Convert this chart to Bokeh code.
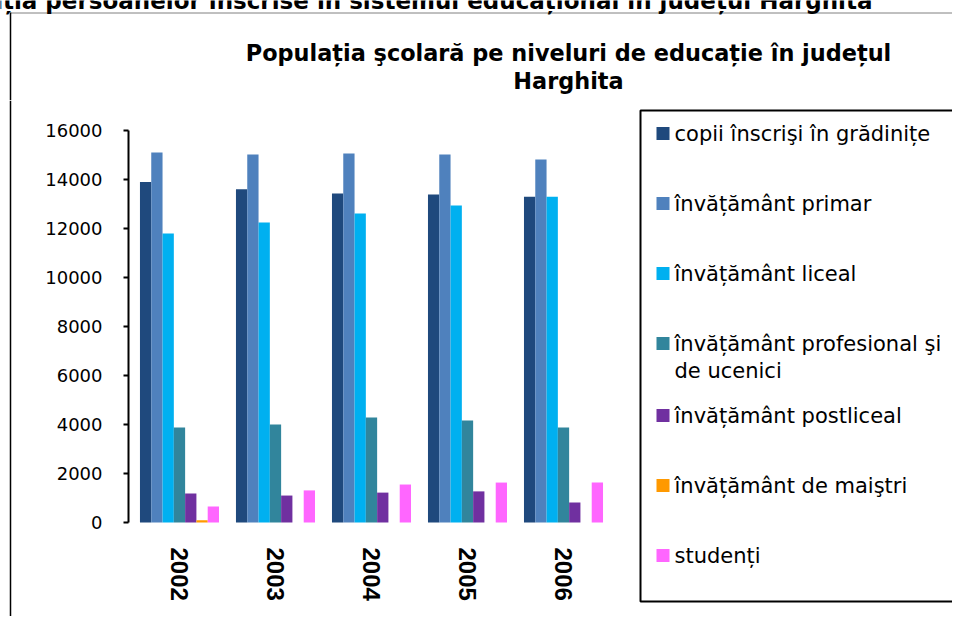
import math
import numpy as np
from bokeh.plotting import figure
from bokeh.layouts import column, row
from bokeh.models import Range1d, FixedTicker, Label
from bokeh.core.properties import value
from bokeh.embed import file_html
from bokeh.resources import INLINE

# ---------------- data ----------------
years = ["2002", "2003", "2004", "2005", "2006"]
gradinite = [13900, 13600, 13430, 13390, 13300]
primar = [15100, 15020, 15060, 15020, 14820]
liceal = [11800, 12250, 12610, 12940, 13300]
profesional = [3880, 4000, 4290, 4160, 3880]
postliceal = [1180, 1100, 1220, 1270, 820]
maistri = [90, 0, 0, 0, 0]
studenti = [650, 1310, 1550, 1630, 1630]

series_labels = [
    ["copii înscrişi în grădinițe"],
    ["învățământ primar"],
    ["învățământ liceal"],
    ["învățământ profesional şi", "de ucenici"],
    ["învățământ postliceal"],
    ["învățământ de maiştri"],
    ["studenți"],
]
y_ticks = [0, 2000, 4000, 6000, 8000, 10000, 12000, 14000, 16000]
chart_title = ["Populația şcolară pe niveluri de educație în județul", "Harghita"]
page_heading = "Populația persoanelor înscrise în sistemul educațional în județul Harghita"

series = [gradinite, primar, liceal, profesional, postliceal, maistri, studenti]
colors = ["#1F497D", "#4F81BD", "#00B0F0", "#31859C", "#7030A0", "#FF9900", "#FF66FF"]

# ---------------- layout constants (page pixels) ----------------
W, H = 952, 616
TOP_H = 100           # height of the title strip
STRIP_W = 12          # narrow strip holding the left frame line
MAIN_W = 618          # chart figure width
LEG_W = W - STRIP_W - MAIN_W
ROW_H = H - TOP_H


def blank(width, height, x0, y0):
    f = figure(width=width, height=height, output_backend="svg", toolbar_location=None,
               title=None, x_range=Range1d(x0, x0 + width), y_range=Range1d(y0 + height, y0),
               x_axis_location=None, y_axis_location=None,
               min_border=0, min_border_left=0, min_border_right=0,
               min_border_top=0, min_border_bottom=0)
    f.outline_line_color = None
    f.grid.visible = False
    f.background_fill_color = "white"
    f.border_fill_color = "white"
    return f


# ---------- title strip ----------
t = blank(W, TOP_H, 0, 0)
t.add_layout(Label(x=872, y=0, text=page_heading, text_align="right",
                   text_baseline="alphabetic", text_font="DejaVu Sans",
                   text_font_style="bold", text_font_size="23px", text_color="black"))
t.segment(x0=[10], y0=[12.5], x1=[W], y1=[12.5], line_color="#808080", line_width=1)
t.segment(x0=[10], y0=[12], x1=[10], y1=[TOP_H], line_color="black", line_width=1.5)
for k, line in enumerate(chart_title):
    t.add_layout(Label(x=568, y=52 + 28 * k, text=line, text_align="center",
                       text_baseline="middle", text_font="DejaVu Sans",
                       text_font_style="bold", text_font_size="22.4px", text_color="black"))

# ---------- left strip ----------
s = blank(STRIP_W, ROW_H, 0, TOP_H)
s.segment(x0=[10], y0=[TOP_H], x1=[10], y1=[H], line_color="black", line_width=1.5)

# ---------- main chart ----------
FL, FR, FT, FB = 128, 611, 130, 522   # plot area edges in page px (16000 at FT, 0 at FB)
ppu = (FB - FT) / 16000.0             # px per unit
p = figure(width=MAIN_W, height=ROW_H, output_backend="svg", toolbar_location=None,
           title=None, x_range=Range1d(-0.531, 4.5),
           y_range=Range1d(-(H - FB) / ppu, 16000 + (FT - TOP_H) / ppu),
           x_axis_location=None,
           min_border_left=FL - STRIP_W, min_border_right=STRIP_W + MAIN_W - FR,
           min_border_top=0, min_border_bottom=0)
p.outline_line_color = None
p.grid.visible = False
p.background_fill_color = "white"
p.border_fill_color = "white"

bw = 0.1176
xs = np.arange(len(years))
n = len(series)
for j, (vals, col) in enumerate(zip(series, colors)):
    p.vbar(x=xs + (j - (n - 1) / 2) * bw, top=vals, width=bw, bottom=0,
           fill_color=col, line_color=None)

p.yaxis.ticker = FixedTicker(ticks=y_ticks)
p.yaxis.bounds = (0, 16000)
p.yaxis.axis_line_color = "black"
p.yaxis.axis_line_width = 2
p.yaxis.major_tick_line_color = "black"
p.yaxis.major_tick_line_width = 2
p.yaxis.major_tick_out = 5
p.yaxis.major_tick_in = 0
p.yaxis.minor_tick_line_color = None
p.yaxis.major_label_text_font = "DejaVu Sans"
p.yaxis.major_label_text_font_size = "18px"
p.yaxis.major_label_text_color = "black"
p.yaxis.major_label_standoff = 21

# category labels (rotated, below the bars)
p.text(x=xs, y=[-(547 - FB) / ppu] * len(years), text=years, angle=-math.pi / 2,
       text_align="left", text_baseline="middle", text_font=value("Liberation Sans"),
       text_font_style="bold", text_font_size="24px", text_color="black")

# ---------- legend ----------
lx0 = STRIP_W + MAIN_W
leg = blank(LEG_W, ROW_H, lx0, TOP_H)
leg.quad(left=[640], right=[W + 20], top=[110], bottom=[601],
         fill_color=None, line_color="black", line_width=2)
item_y = [133, 203, 273, 343, 415, 485, 555]
leg.quad(left=[656] * n, right=[669] * n,
         top=[y - 6.5 for y in item_y], bottom=[y + 6.5 for y in item_y],
         fill_color=colors, line_color=None)
for lines, cy in zip(series_labels, item_y):
    for k, line in enumerate(lines):
        leg.add_layout(Label(x=674, y=cy + 27 * k, text=line, text_align="left",
                             text_baseline="middle", text_font="DejaVu Sans",
                             text_font_size="21px", text_color="black"))

layout = column(t, row(s, p, leg))
open("out.html", "w").write(file_html(layout, INLINE))
